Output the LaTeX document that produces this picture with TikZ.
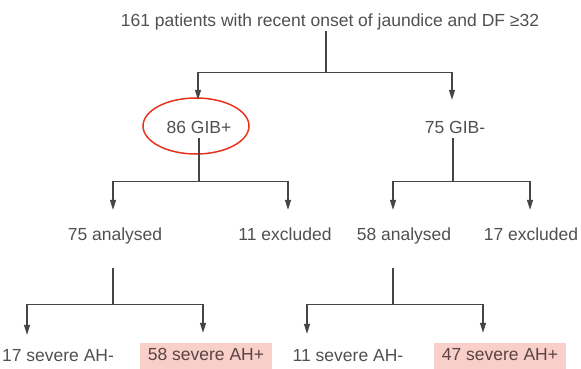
\documentclass[tikz,border=0pt]{standalone}
\usepackage{fontspec}
\setmainfont{Liberation Sans}
\usetikzlibrary{arrows.meta,shapes.geometric}
\definecolor{txtgray}{HTML}{505050}
\definecolor{linegray}{HTML}{454545}
\definecolor{ringred}{HTML}{E8321E}
\definecolor{pinkbg}{HTML}{F9CFCA}
\definecolor{pinktxt}{HTML}{5A4444}

\begin{document}
\begin{tikzpicture}[x=1pt,y=-1pt,>={Triangle[length=10pt,width=6pt]},
  every node/.style={inner sep=1pt,text=txtgray,font=\fontsize{17.5}{20}\selectfont,
    text height=12.5pt,text depth=3.5pt},
  link/.style={draw=linegray,line width=1.2pt},
  hilite/.style={fill=pinkbg,text=pinktxt,inner xsep=8pt,inner ysep=5pt}]
  \useasboundingbox (0,0) rectangle (581,369);
  % boxes
  \node (top) at (330,22) {161 patients with recent onset of jaundice and DF ≥32};
  \node (gibp) at (199,129) {86 GIB+};
  \node (gibm) at (455,129) {75 GIB-};
  \node (anp) at (115,236) {75 analysed};
  \node (exp) at (285,236) {11 excluded};
  \node (anm) at (404,236) {58 analysed};
  \node (exm) at (531,236) {17 excluded};
  \node (ah1) at (58,357) {17 severe AH-};
  \node[hilite] (ah2) at (206,356) {58 severe AH+};
  \node (ah3) at (348,357) {11 severe AH-};
  \node[hilite] (ah4) at (500,356) {47 severe AH+};
  \node[ellipse,draw=ringred,line width=1.5pt,minimum width=106pt,minimum height=56pt]
    (circ) at ([xshift=-3pt,yshift=3pt]gibp) {};
  % first split
  \draw[link] ([xshift=-4pt]top.south) -- ++(0,41) coordinate (f0);
  \draw[link,->] (f0) -| ([xshift=-1pt,yshift=20pt]gibp.north);
  \draw[link,->] (f0) -| ([xshift=-3pt,yshift=20pt]gibm.north);
  % GIB+ / GIB-
  \draw[link] (gibp.south) -- ++(0,43) coordinate (f1);
  \draw[link,->] (f1) -| ([xshift=-2pt,yshift=17pt]anp.north);
  \draw[link,->] (f1) -| ([xshift=3pt,yshift=17pt]exp.north);
  \draw[link] ([xshift=-2pt]gibm.south) -- ++(0,43) coordinate (f2);
  \draw[link,->] (f2) -| ([xshift=-11pt,yshift=17pt]anm.north);
  \draw[link,->] (f2) -| ([xshift=-1pt,yshift=17pt]exm.north);
  % analysed
  \draw[link] ([xshift=-2pt,yshift=-23pt]anp.south) -- ++(0,36) coordinate (f3);
  \draw[link,->] (f3) -| ([xshift=-31pt,yshift=13pt]ah1.north);
  \draw[link,->] (f3) -| ([xshift=-3pt,yshift=10pt]ah2.north);
  \draw[link] ([xshift=-11pt,yshift=-23pt]anm.south) -- ++(0,36) coordinate (f4);
  \draw[link,->] (f4) -| ([xshift=-41pt,yshift=14pt]ah3.north);
  \draw[link,->] (f4) -| ([xshift=-17pt,yshift=10pt]ah4.north);
\end{tikzpicture}
\end{document}
